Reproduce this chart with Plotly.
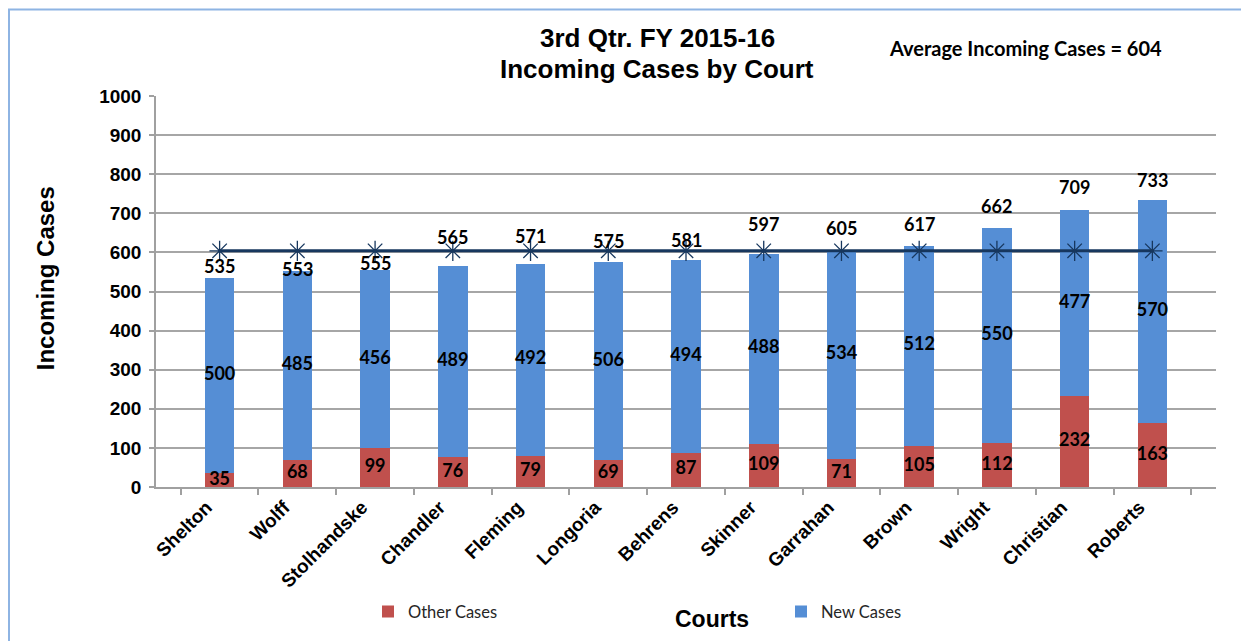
import plotly.graph_objects as go

courts = ["Shelton", "Wolff", "Stolhandske", "Chandler", "Fleming", "Longoria",
          "Behrens", "Skinner", "Garrahan", "Brown", "Wright", "Christian", "Roberts"]
other_cases = [35, 68, 99, 76, 79, 69, 87, 109, 71, 105, 112, 232, 163]
new_cases = [500, 485, 456, 489, 492, 506, 494, 488, 534, 512, 550, 477, 570]
totals = [535, 553, 555, 565, 571, 575, 581, 597, 605, 617, 662, 709, 733]
average = 604
y_ticks = [0, 100, 200, 300, 400, 500, 600, 700, 800, 900, 1000]

# style: pixel offset of each total label above its bar top (manual placement in original)
total_label_shift = [12, 2, 7, 29, 28, 21, 20, 30, 22, 22, 22, 23, 20]

RED = "#C0504D"
BLUE = "#558ED5"
NAVY = "#17375E"
ARIAL = "Liberation Sans, Arial, sans-serif"
NARROW = "Liberation Sans Narrow, Liberation Sans, Arial, sans-serif"
CALIBRI = "Lato, Carlito, Calibri, sans-serif"

W, H = 1249, 641
OFF = 8  # page body margin
# plot area in page pixels
PL, PR, PT, PB = 156, 1216, 95.5, 487
L = PL - OFF
T = PT - OFF
pw, ph = PR - PL, PB - PT
R = W - L - pw
B = H - T - ph


def px(xpage):
    return (xpage - PL) / pw


def py(ypage):
    return (PB - ypage) / ph


fig = go.Figure()
fig.add_trace(go.Bar(x=courts, y=other_cases, name="Other Cases",
                     marker=dict(color=RED, line=dict(width=0)), hoverinfo="x+y"))
fig.add_trace(go.Bar(x=courts, y=new_cases, name="New Cases",
                     marker=dict(color=BLUE, line=dict(width=0)), hoverinfo="x+y"))
fig.add_trace(go.Scatter(x=courts, y=[average] * len(courts), mode="lines+markers",
                         line=dict(color=NAVY, width=3),
                         marker=dict(symbol="asterisk-open", size=17,
                                     line=dict(color=NAVY, width=1.3), color=NAVY),
                         showlegend=False, hoverinfo="y"))

label_font = dict(family=CALIBRI, size=18, color="black", weight="bold")
other_mid = [o / 2 for o in other_cases]
new_mid = [o + n / 2 for o, n in zip(other_cases, new_cases)]
fig.add_trace(go.Scatter(x=courts, y=other_mid, mode="text", text=[str(v) for v in other_cases],
                         textposition="middle center", cliponaxis=False, textfont=label_font,
                         showlegend=False, hoverinfo="skip"))
fig.add_trace(go.Scatter(x=courts, y=new_mid, mode="text", text=[str(v) for v in new_cases],
                         textposition="middle center", cliponaxis=False, textfont=label_font,
                         showlegend=False, hoverinfo="skip"))

annotations = []
for c, t, s in zip(courts, totals, total_label_shift):
    annotations.append(dict(x=c, y=t, text=str(t), showarrow=False, yshift=s,
                            yanchor="middle", xanchor="center", font=label_font))

annotations += [
    dict(xref="paper", yref="paper", x=px(657), y=py(37), text="3rd Qtr. FY 2015-16",
         showarrow=False, xanchor="center", yanchor="middle",
         font=dict(family=ARIAL, size=26, color="black", weight="bold")),
    dict(xref="paper", yref="paper", x=px(657), y=py(68), text="Incoming Cases by Court",
         showarrow=False, xanchor="center", yanchor="middle",
         font=dict(family=ARIAL, size=26, color="black", weight="bold")),
    dict(xref="paper", yref="paper", x=px(1025), y=py(47), text=f"Average Incoming Cases = {average}",
         showarrow=False, xanchor="center", yanchor="middle",
         font=dict(family=CALIBRI, size=20, color="black", weight="bold")),
    dict(xref="paper", yref="paper", x=px(712), y=py(619), text="Courts",
         showarrow=False, xanchor="center", yanchor="middle",
         font=dict(family=ARIAL, size=23, color="black", weight="bold")),
    dict(xref="paper", yref="paper", x=px(45), y=py(278), text="Incoming Cases", textangle=-90,
         showarrow=False, xanchor="center", yanchor="middle",
         font=dict(family=ARIAL, size=24, color="black", weight="bold")),
]

fig.update_layout(
    width=W, height=H,
    margin=dict(l=L, r=R, t=T, b=B, autoexpand=False),
    paper_bgcolor="white", plot_bgcolor="white",
    barmode="stack", bargap=0.62,
    annotations=annotations,
    shapes=[dict(type="rect", xref="paper", yref="paper",
                 x0=px(OFF + 1), x1=px(1270), y0=py(680), y1=py(OFF + 1),
                 line=dict(color="#8EB4E3", width=2), fillcolor="rgba(0,0,0,0)", layer="below")],
    legend=dict(orientation="h", x=px(368), xanchor="left", y=py(612), yanchor="middle",
                entrywidthmode="pixels", entrywidth=368, traceorder="normal",
                font=dict(family=CALIBRI, size=16.5, color="#262626"),
                bgcolor="rgba(0,0,0,0)"),
    showlegend=True,
)
fig.update_xaxes(type="category", showline=True, linecolor="#A0A0A0", linewidth=1.5,
                 ticks="outside", tickson="boundaries", ticklen=6, tickcolor="#A0A0A0", tickwidth=1.5,
                 tickangle=-45, automargin=False, ticklabelshift=-13,
                 tickfont=dict(family=NARROW, size=19, color="black", weight="bold"),
                 showgrid=False)
fig.update_yaxes(range=[0, 1000], tickvals=y_ticks, showline=True, linecolor="#A0A0A0", linewidth=1.5,
                 ticks="outside", ticklen=5, tickcolor="#A0A0A0", tickwidth=1.5,
                 showgrid=True, gridcolor="#A6A6A6", gridwidth=1.5, zeroline=False,
                 automargin=False, ticklabelstandoff=4,
                 tickfont=dict(family=NARROW, size=19, color="black", weight="bold"))

fig.write_html("out.html")
